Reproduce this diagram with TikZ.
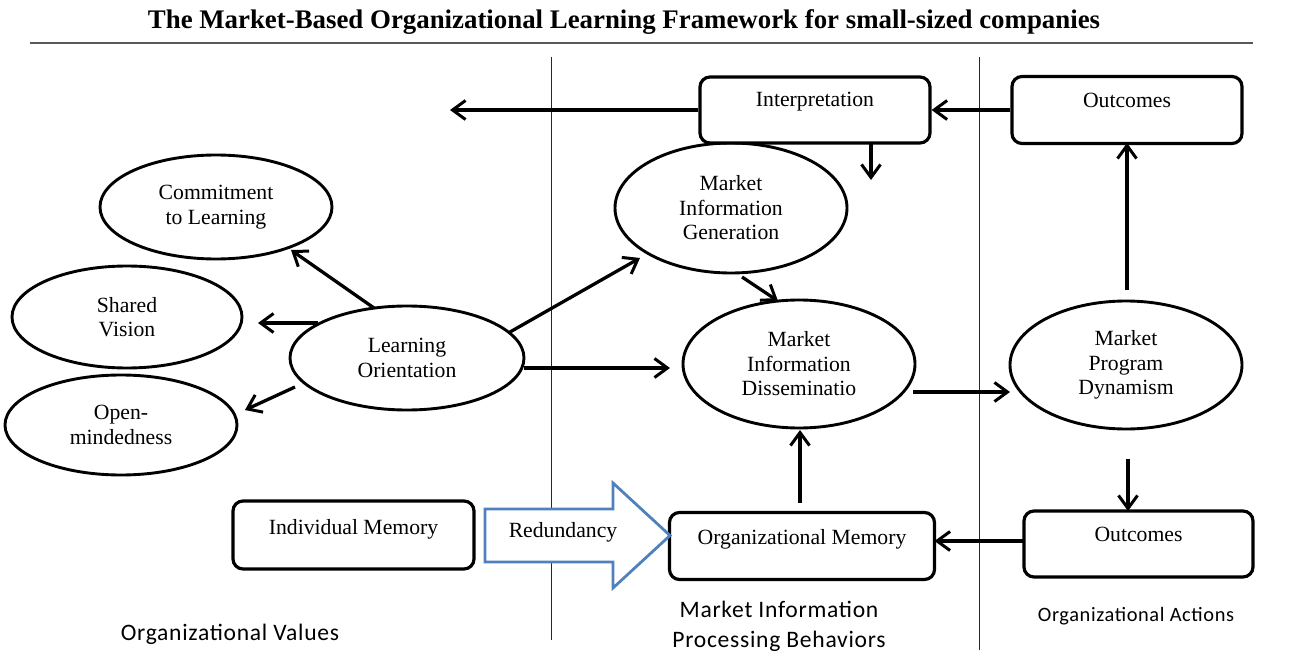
\documentclass[tikz,border=0pt]{standalone}
\usepackage{fontspec}
\setmainfont{Liberation Serif}
\newfontfamily\labfont[LetterSpace=3]{Carlito}
\usetikzlibrary{arrows.meta,calc,shapes.geometric}
\definecolor{arrowblue}{HTML}{4F81BD}
\tikzset{
  rbox/.style={draw, line width=3.2pt, rounded corners=10pt, inner sep=0pt, fill=white,
    font=\fontsize{21.7}{24.5}\selectfont},
  ell/.style={draw, ellipse, line width=2.9pt, inner sep=0pt, fill=white, align=center,
    font=\fontsize{21.7}{24.5}\selectfont},
  arr/.style={line width=3.3pt, -{Straight Barb[length=13pt,width=19pt,line width=3pt]}},
  divider/.style={line width=1pt, black!85},
  grouplab/.style={font=\labfont\fontsize{23.6}{30}\selectfont, align=center, text=black},
}
\begin{document}
\begin{tikzpicture}[x=1pt,y=-1pt]
\useasboundingbox (0,0) rectangle (1312,666);
\fill[white] (0,0) rectangle (1312,666);

% title and rule
\node (title) at (624,22) {\resizebox{952pt}{!}{\bfseries The Market-Based Organizational Learning Framework for small-sized companies}};
\draw[line width=2pt, black!65] (30,43) -- (1253,43);

% dividers
\draw[divider] (551,57) -- (551,640);
\draw[divider] (979,57) -- (979,650);

% left column ellipses
\node[ell, minimum width=232pt, minimum height=104pt] (CL) at (216,207) {Commitment\\to Learning};
\node[ell, minimum width=230pt, minimum height=102pt] (SV) at (127,317) {Shared\\Vision};
\node[ell, minimum width=232pt, minimum height=100pt] (OMD) at (121,425) {Open-\\mindedness};
\node[ell, minimum width=234pt, minimum height=104pt] (LO) at (407,358) {Learning\\Orientation};

% middle column
\node[ell, minimum width=232pt, minimum height=130pt] (MIG) at (731,208) {Market\\Information\\Generation};
\node[ell, minimum width=232pt, minimum height=128pt] (MID) at (799,364) {Market\\Information\\Disseminatio};
\node[rbox, minimum width=230pt, text height=30pt, text depth=36pt] (interp) at (815,110) {Interpretation};

% right column
\node[rbox, minimum width=230pt, text height=31pt, text depth=36pt] (outT) at (1127,110) {Outcomes};
\node[ell, minimum width=232pt, minimum height=128pt] (MPD) at (1126,365) {Market\\Program\\Dynamism};
\node[rbox, minimum width=229pt, text height=30pt, text depth=36pt] (outB) at (1138.5,544) {Outcomes};

% bottom row
\node[rbox, minimum width=241pt, text height=33pt, text depth=35pt] (IM) at (353.5,535) {Individual Memory};
\node[rbox, minimum width=265pt, text height=32pt, text depth=35pt] (OM) at (802,546) {Organizational Memory};

% redundancy block arrow
\draw[arrowblue, line width=2.8pt, fill=white, line join=miter]
  (485,509) -- (613,509) -- (613,483) -- (670,535.5) -- (613,588) -- (613,562) -- (485,562) -- cycle;
\node[font=\fontsize{21.7}{24.5}\selectfont] (red) at (563,532) {Redundancy};

% connectors
\coordinate (leftend) at (450,110);
\draw[arr] (interp.west) -- (leftend);
\coordinate (downend) at (871,180);
\draw[arr] ($(interp.center)+(56,33)$) -- (downend);
\draw[arr] (outT.west) -- (interp.east);
\draw[arr] ($(MPD.center)+(1,-75)$) -- ($(outT.center)+(0,33)$);
\draw[arr] ($(MPD.center)+(2,94)$) -- ($(outB.center)+(-10.5,-33)$);
\draw[arr] ($(outB.center)+(-114.5,-3)$) -- ($(OM.center)+(132.5,-5)$);
\draw[arr] ($(OM.center)+(-2,-43)$) -- ($(MID.center)+(1,66)$);
\draw[arr] ($(MID.center)+(114,28)$) -- ($(MPD.center)+(-116,27)$);
\draw[arr] ($(LO.center)+(117,10)$) -- ($(MID.center)+(-129,4)$);
\draw[arr] ($(LO.center)+(103,-26)$) -- ($(MIG.center)+(-91,50)$);
\draw[arr] ($(MIG.center)+(11,69)$) -- ($(MID.center)+(-21,-63)$);
\draw[arr] ($(LO.center)+(-33,-50)$) -- ($(CL.center)+(75,43)$);
\draw[arr] ($(LO.center)+(-89,-35)$) -- ($(SV.center)+(131,6)$);
\draw[arr] ($(LO.center)+(-112,29)$) -- ($(OMD.center)+(124,-15)$);

% group labels
\node[grouplab] (gval) at (230,634) {Organizational Values};
\node[grouplab] (gproc) at (779,626) {Market Information\\Processing Behaviors};
\node[grouplab, font=\labfont\fontsize{20.4}{26}\selectfont] (gact) at (1136,616) {Organizational Actions};
\end{tikzpicture}
\end{document}
